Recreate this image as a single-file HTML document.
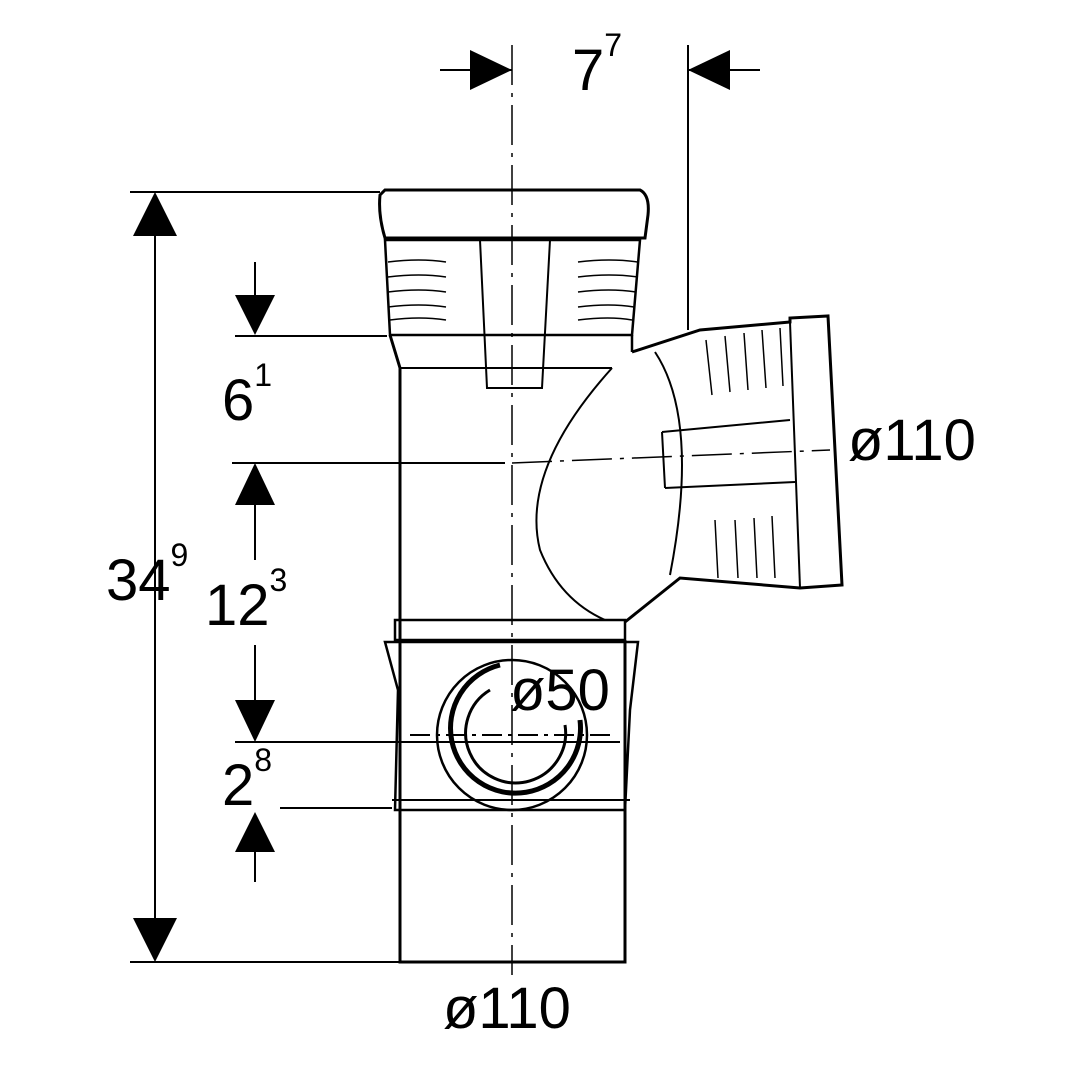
<!DOCTYPE html>
<html><head><meta charset="utf-8"><style>
html,body{margin:0;padding:0;background:#fff}
svg{display:block}
text{font-family:"Liberation Sans",sans-serif;fill:#000}
</style></head><body>
<svg width="1080" height="1080" viewBox="0 0 1080 1080" xmlns="http://www.w3.org/2000/svg">
<g fill="none" stroke="#000" stroke-width="2">
<line x1="512" y1="45" x2="512" y2="975" stroke-dasharray="40,8,4,8" stroke-width="1.5"/>
<line x1="440" y1="70" x2="512" y2="70"/>
<line x1="688" y1="70" x2="760" y2="70"/>
<line x1="688" y1="45" x2="688" y2="330"/>
<line x1="155" y1="200" x2="155" y2="955"/>
<line x1="130" y1="192" x2="380" y2="192"/>
<line x1="130" y1="962" x2="400" y2="962"/>
<line x1="255" y1="262" x2="255" y2="300"/>
<line x1="235" y1="336" x2="387" y2="336"/>
<line x1="232" y1="463" x2="505" y2="463"/>
<line x1="512" y1="463" x2="830" y2="450" stroke-dasharray="40,8,4,8" stroke-width="1.5"/>
<line x1="255" y1="500" x2="255" y2="560"/>
<line x1="255" y1="645" x2="255" y2="705"/>
<line x1="235" y1="742" x2="620" y2="742"/>
<line x1="280" y1="808" x2="392" y2="808"/>
<line x1="255" y1="850" x2="255" y2="882"/>
<path d="M385 190 L640 190 Q650 195 648 215 L645 238 L385 238 Q378 215 380 195 Z" stroke-width="3"/>
<path d="M385 240 L640 240 L632 335 L390 335 Z" stroke-width="2.5"/>
<path d="M390 335 L400 368 L400 962 L625 962 L625 640" stroke-width="3"/>
<path d="M632 335 L632 352" stroke-width="2.5"/>
<path d="M480 240 L487 388 L542 388 L550 240"/>
<path d="M400 368 L612 368"/>
<g stroke-width="1.5">
<path d="M388 262 Q420 258 446 262 M388 277 Q420 273 446 277 M388 292 Q420 288 446 292 M388 307 Q420 303 446 307 M390 320 Q420 316 446 320"/>
<path d="M578 262 Q610 258 638 262 M578 277 Q610 273 638 277 M578 292 Q610 288 636 292 M578 307 Q610 303 634 307 M578 320 Q610 316 632 320"/>
</g>
<path d="M632 352 L700 330 L790 322 L790 318 L828 316 L842 585 L800 588 L680 578 L625 622" stroke-width="3"/>
<path d="M790 322 L800 588"/>
<path d="M655 352 Q700 420 670 575"/>
<path d="M612 368 Q520 470 540 550 Q560 600 605 620"/>
<path d="M662 432 L790 420 M665 488 L795 482 M662 432 L665 488"/>
<g stroke-width="1.5">
<path d="M706 340 L712 395 M725 336 L730 392 M744 333 L748 390 M762 330 L766 388 M780 328 L783 386"/>
<path d="M715 520 L718 578 M735 520 L738 578 M754 518 L757 578 M772 516 L775 578"/>
</g>
<path d="M395 620 L625 620 L625 640 L395 640 Z" stroke-width="2.5"/>
<path d="M385 642 L638 642 L630 710 L625 810 L395 810 L398 690 Z" stroke-width="2.5"/>
<path d="M392 800 L630 800"/>
<circle cx="512" cy="735" r="75" stroke-width="2.5"/>
<path d="M500 665 A65 65 0 1 0 580 720" stroke-width="5"/>
<path d="M490 690 A50 50 0 1 0 565 725" stroke-width="3"/>
<line x1="410" y1="735" x2="615" y2="735" stroke-dasharray="20,6,4,6"/>
</g>
<g fill="#000">
<polygon points="512,70 470,50 470,90"/>
<polygon points="688,70 730,50 730,90"/>
<polygon points="155,192 133,236 177,236"/>
<polygon points="155,962 133,918 177,918"/>
<polygon points="255,335 235,295 275,295"/>
<polygon points="255,463 235,505 275,505"/>
<polygon points="255,742 235,700 275,700"/>
<polygon points="255,812 235,852 275,852"/>
</g>
<text x="572" y="90" font-size="58">7<tspan font-size="32" dy="-34">7</tspan></text>
<text x="222" y="420" font-size="58">6<tspan font-size="32" dy="-34">1</tspan></text>
<text x="106" y="600" font-size="58">34<tspan font-size="32" dy="-34">9</tspan></text>
<text x="205" y="625" font-size="58">12<tspan font-size="32" dy="-34">3</tspan></text>
<text x="222" y="805" font-size="58">2<tspan font-size="32" dy="-34">8</tspan></text>
<text x="848" y="460" font-size="58">ø110</text>
<text x="510" y="710" font-size="58">ø50</text>
<text x="443" y="1028" font-size="58">ø110</text>
</svg>
</body></html>
